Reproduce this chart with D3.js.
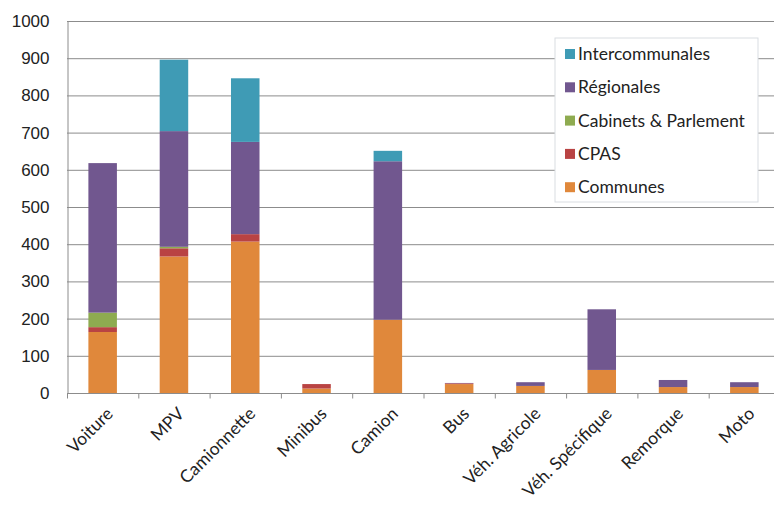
<!DOCTYPE html>
<html>
<head>
<meta charset="utf-8">
<script src="https://cdn.jsdelivr.net/npm/d3@7"></script>
<style>
  body { margin: 0; background: #fff; }
  svg { display: block; font-family: Lato, "Open Sans", sans-serif; }
</style>
</head>
<body>
<div id="viz"></div>
<script>
const categories = ["Voiture", "MPV", "Camionnette", "Minibus", "Camion", "Bus",
  "Véh. Agricole", "Véh. Spécifique", "Remorque", "Moto"];
const seriesNames = ["Communes", "CPAS", "Cabinets & Parlement", "Régionales", "Intercommunales"];
const communes = [164, 367, 407, 12, 197, 24, 19, 62, 16, 16];
const cpas = [13, 22, 20, 12, 0, 2, 0, 0, 0, 0];
const cabinets = [39, 4, 0, 0, 0, 0, 0, 0, 0, 0];
const regionales = [402, 311, 248, 0, 426, 1, 10, 163, 19, 13];
const intercommunales = [0, 192, 171, 0, 28, 0, 0, 0, 0, 0];
const yTicks = [0, 100, 200, 300, 400, 500, 600, 700, 800, 900, 1000];
const colors = ["#E0883B", "#B94343", "#8EAB50", "#71578F", "#3F9BB5"];

const W = 774, H = 506;
const margin = {top: 21, left: 67, bottom: 113};
const plotH = H - margin.top - margin.bottom;

const seriesValues = [communes, cpas, cabinets, regionales, intercommunales];
const table = categories.map((c, i) => {
  const row = {cat: c};
  seriesNames.forEach((s, j) => row[s] = seriesValues[j][i]);
  return row;
});
const stacked = d3.stack().keys(seriesNames)(table);

const svg = d3.select("#viz").append("svg")
  .attr("width", W).attr("height", H);

const x = d3.scaleBand().domain(categories)
  .range([margin.left, margin.left + 71.3 * categories.length])
  .paddingInner(0.6).paddingOuter(0.3);
const xb = d3.scaleBand().domain(categories)
  .range([margin.left, margin.left + 71.3 * categories.length]);
const y = d3.scaleLinear().domain([0, 1000]).range([margin.top + plotH, margin.top]);

// gridlines
svg.append("g").selectAll("line").data(yTicks.slice(1)).join("line")
  .attr("x1", margin.left).attr("x2", W)
  .attr("y1", d => y(d) + 0.5).attr("y2", d => y(d) + 0.5)
  .attr("stroke", "#8c8c8c").attr("stroke-width", 1);

// y axis
const yAxis = svg.append("g")
  .attr("transform", `translate(${margin.left + 0.5},0)`)
  .call(d3.axisLeft(y).tickValues(yTicks).tickFormat(d3.format("d")).tickSize(0).tickPadding(18));
yAxis.select(".domain").attr("stroke", "#8c8c8c");
yAxis.selectAll("text").style("font-size", "17px").attr("fill", "#222");

// bars
svg.append("g").selectAll("g").data(stacked).join("g")
  .attr("fill", (d, i) => colors[i])
  .selectAll("rect").data(d => d).join("rect")
  .attr("x", d => x(d.data.cat))
  .attr("width", x.bandwidth())
  .attr("y", d => y(d[1]))
  .attr("height", d => y(d[0]) - y(d[1]));

// x axis
const xAxis = svg.append("g")
  .attr("transform", `translate(0,${y(0) + 0.5})`);
xAxis.append("line").attr("x1", margin.left).attr("x2", W)
  .attr("stroke", "#8c8c8c");
xAxis.selectAll("line.tk").data(categories).join("line")
  .attr("class", "tk")
  .attr("x1", d => xb(d) + 0.5).attr("x2", d => xb(d) + 0.5)
  .attr("y1", 0).attr("y2", 5)
  .attr("stroke", "#8c8c8c");
xAxis.selectAll("text").data(categories).join("text")
  .attr("transform", d => `translate(${xb(d) + xb.bandwidth() / 2 + 7},${17}) rotate(-45)`)
  .attr("text-anchor", "end")
  .attr("dy", "0.35em")
  .style("font-size", "17.5px")
  .attr("fill", "#222")
  .text(d => d);

// legend
const legend = svg.append("g").attr("transform", "translate(555,38)");
legend.append("rect").attr("width", 203).attr("height", 164)
  .attr("fill", "#fff").attr("stroke", "#d9dde2");
const legendOrder = seriesNames.slice().reverse();
legendOrder.forEach((name, i) => {
  const ci = seriesNames.indexOf(name);
  legend.append("rect").attr("x", 10).attr("y", 11 + i * 33.3)
    .attr("width", 10).attr("height", 10).attr("fill", colors[ci]);
  legend.append("text").attr("x", 23).attr("y", 16 + i * 33.3)
    .attr("dy", "0.35em").style("font-size", "17.5px").attr("fill", "#222")
    .text(name);
});
</script>
</body>
</html>
